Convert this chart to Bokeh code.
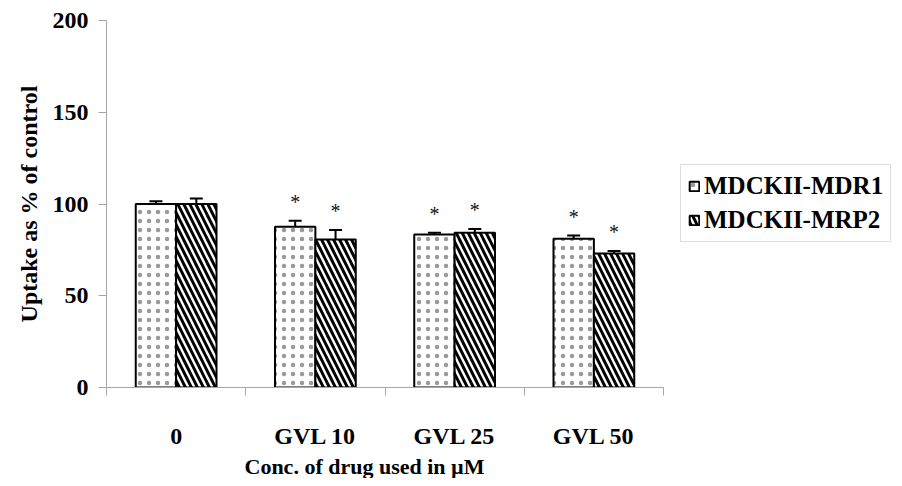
from bokeh.plotting import figure
from bokeh.models import (ColumnDataSource, Range1d, LinearAxis, FixedTicker, Whisker,
                          TeeHead, Legend, LegendItem, Title)
from bokeh.embed import file_html
from bokeh.resources import INLINE
from bokeh.core.properties import value

# ---- data ----
categories = ["0", "GVL 10", "GVL 25", "GVL 50"]
series_names = ["MDCKII-MDR1", "MDCKII-MRP2"]
mdr1 = [100.0, 87.6, 83.4, 81.0]
mdr1_err = [1.5, 3.3, 0.9, 1.8]
mrp2 = [100.0, 80.7, 84.3, 73.0]
mrp2_err = [3.0, 5.1, 2.1, 1.4]
mdr1_sig = [False, True, True, True]
mrp2_sig = [False, True, True, True]
y_ticks = [0, 50, 100, 150, 200]

FONT = "Liberation Serif"
AXIS_GREY = "#a6a6a6"
BAR_W = 0.29

# layout constants (pixels)
FIG_W, FIG_H = 895, 478
LEFT, TOP, BOTTOM = 106, 20, 90
DATA_W = 557                       # pixel width of the category area
FRAME_W = FIG_W - LEFT             # frame extends under the legend
n = len(categories)
x_end = n * FRAME_W / DATA_W

p = figure(width=FIG_W, height=FIG_H, output_backend="svg", toolbar_location=None,
           x_range=Range1d(0, x_end), y_range=Range1d(0, 200),
           x_axis_type=None, y_axis_type=None,
           min_border_left=LEFT, min_border_top=TOP, min_border_bottom=BOTTOM, min_border_right=0)
p.outline_line_color = None
p.xgrid.visible = False
p.ygrid.visible = False
p.background_fill_color = "white"

centers = [i + 0.5 for i in range(n)]
x1 = [c - BAR_W / 2 for c in centers]
x2 = [c + BAR_W / 2 for c in centers]

src1 = ColumnDataSource(dict(x=x1, top=mdr1, up=[v + e for v, e in zip(mdr1, mdr1_err)],
                             lo=[v - e for v, e in zip(mdr1, mdr1_err)]))
src2 = ColumnDataSource(dict(x=x2, top=mrp2, up=[v + e for v, e in zip(mrp2, mrp2_err)],
                             lo=[v - e for v, e in zip(mrp2, mrp2_err)]))

r1 = p.vbar(x="x", top="top", width=BAR_W, source=src1, fill_color="white",
            line_color="black", line_width=2,
            hatch_pattern="dot", hatch_color="#9a9a9a", hatch_scale=9, hatch_weight=1)
r2 = p.vbar(x="x", top="top", width=BAR_W, source=src2, fill_color="white",
            line_color="black", line_width=2,
            hatch_pattern="left_diagonal_line", hatch_color="black", hatch_scale=12, hatch_weight=3)

for src in (src1, src2):
    w = Whisker(source=src, base="x", upper="up", lower="lo", line_color="black", line_width=2,
                upper_head=TeeHead(size=13, line_color="black", line_width=2),
                lower_head=TeeHead(size=13, line_color="black", line_width=2))
    p.add_layout(w)

# significance stars
sx, sy = [], []
for xs, vals, errs, sig in ((x1, mdr1, mdr1_err, mdr1_sig), (x2, mrp2, mrp2_err, mrp2_sig)):
    for xx, v, e, s in zip(xs, vals, errs, sig):
        if s:
            sx.append(xx)
            sy.append(v + e)
p.text(x=sx, y=sy, text=["*"] * len(sx), text_font=value(FONT), text_font_size="20px",
       text_color="#111111", text_align="center", text_baseline="alphabetic", y_offset=-19)

# y axis
yax = LinearAxis(ticker=FixedTicker(ticks=y_ticks, minor_ticks=[]))
yax.axis_label = "Uptake as % of control"
yax.axis_label_text_font = FONT
yax.axis_label_text_font_style = "bold"
yax.axis_label_text_font_size = "24px"
yax.axis_label_text_color = "black"
yax.axis_label_standoff = 8
yax.major_label_text_font = FONT
yax.major_label_text_font_style = "bold"
yax.major_label_text_font_size = "24px"
yax.major_label_text_color = "black"
yax.major_label_standoff = 10
yax.axis_line_color = AXIS_GREY
yax.major_tick_line_color = AXIS_GREY
yax.major_tick_out = 8
yax.major_tick_in = 0
p.add_layout(yax, "left")

# x axis: labels at category centres, ticks at category boundaries
xax = LinearAxis(ticker=FixedTicker(ticks=centers, minor_ticks=list(range(n + 1))),
                 bounds=(0, n))
xax.major_label_overrides = {c: lab for c, lab in zip(centers, categories)}
xax.major_label_text_font = FONT
xax.major_label_text_font_style = "bold"
xax.major_label_text_font_size = "24px"
xax.major_label_text_color = "black"
xax.major_label_standoff = 27
xax.axis_line_color = AXIS_GREY
xax.major_tick_line_color = None
xax.major_tick_out = 0
xax.major_tick_in = 0
xax.minor_tick_line_color = AXIS_GREY
xax.minor_tick_out = 8
xax.minor_tick_in = 0
p.add_layout(xax, "below")

xtitle = Title(text="Conc. of drug used in \u00b5M", align="left", offset=138,
               text_font=FONT, text_font_style="bold", text_font_size="22px",
               text_color="black", standoff=0)
p.add_layout(xtitle, "below")

legend = Legend(items=[LegendItem(label=series_names[0], renderers=[r1]),
                       LegendItem(label=series_names[1], renderers=[r2])],
                location=(574, 145), orientation="vertical")
legend.label_text_font = FONT
legend.label_text_font_style = "bold"
legend.label_text_font_size = "25px"
legend.label_text_color = "black"
legend.glyph_width = 12
legend.glyph_height = 12
legend.label_standoff = 4
legend.padding = 7
legend.spacing = 6
legend.margin = 0
legend.border_line_color = "#bbbbbb"
legend.border_line_width = 1
legend.background_fill_color = "white"
p.add_layout(legend)

open("out.html", "w").write(file_html(p, INLINE))
